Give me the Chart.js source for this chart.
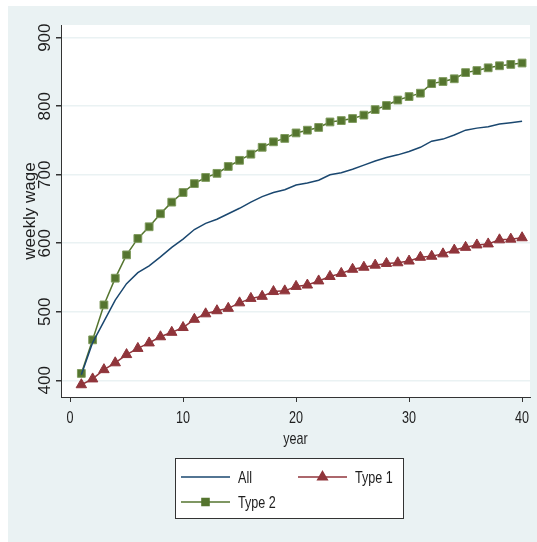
<!DOCTYPE html>
<html lang="en">
<head>
  <meta charset="UTF-8">
  <title>Weekly wage by year</title>
  <style>
    body {
      margin: 0;
      padding: 0;
      background: #ffffff;
    }
    #chart {
      display: block;
    }
  </style>
</head>
<body>
  <canvas id="chart" width="537" height="542"></canvas>

  <script src="https://cdn.jsdelivr.net/npm/chart.js"></script>
  <script>
    // values
    const years = [1, 2, 3, 4, 5, 6, 7, 8, 9, 10, 11, 12, 13, 14, 15, 16, 17, 18, 19, 20,
                   21, 22, 23, 24, 25, 26, 27, 28, 29, 30, 31, 32, 33, 34, 35, 36, 37, 38, 39, 40];
    const allWage = [408, 455, 486, 517, 541, 557, 567, 580, 594, 606, 620, 629, 635, 643, 651, 660, 668, 674, 678, 685,
                     688, 692, 700, 703, 708, 714, 720, 725, 729, 734, 740, 749, 752, 758, 765, 768, 770, 774, 776, 778];
    const type1Wage = [393.5, 402, 415.5, 425.5, 437.5, 446.5, 454.5, 463.5, 470, 477, 489, 497, 501.5, 505, 513, 519.5, 522.5, 529.5, 530.5, 537,
                       539, 545, 551.5, 556, 562, 565, 568, 570.5, 571.5, 574, 579.5, 581, 584.5, 590, 594, 597.5, 599, 605, 606, 608];
    const type2Wage = [410, 459, 510, 549, 583, 607, 624, 643, 660, 674, 687, 696, 702, 712, 721, 730, 740, 748, 753, 761,
                       765, 769, 777, 779, 782, 787, 795, 801, 809, 814, 819, 833, 836, 840, 849, 852, 856, 859, 861, 863];
    const yTicks = [400, 500, 600, 700, 800, 900];
    const xTicks = [0, 10, 20, 30, 40];

    const seriesNames = ['All', 'Type 1', 'Type 2'];
    const xTitle = 'year';
    const yTitle = 'weekly wage';

    const navy = '#1a476f';
    const maroon = '#90353b';
    const green = '#55752f';
    const bgColor = '#eaf2f3';
    const axisColor = '#333333';
    const textColor = '#1e1e1e';
    const plainFont = '"Liberation Sans", Arial, sans-serif';

    function toPoints(values) {
      return years.map((yr, i) => ({ x: yr, y: values[i] }));
    }

    // the original uses a narrow face for horizontal text, so squeeze it
    function narrowText(ctx, text, x, y, align) {
      const squeeze = 0.74;
      ctx.save();
      ctx.translate(x, y);
      ctx.scale(squeeze, 1);
      ctx.textAlign = align;
      ctx.fillText(text, 0, 0);
      ctx.restore();
    }

    // grey outer box and white plot region
    const backdrop = {
      id: 'backdrop',
      beforeDraw(chart) {
        const { ctx, chartArea } = chart;
        ctx.save();
        ctx.fillStyle = '#ffffff';
        ctx.fillRect(0, 0, chart.width, chart.height);
        ctx.fillStyle = bgColor;
        ctx.fillRect(8, 6, chart.width - 8, chart.height - 6);
        ctx.fillStyle = '#ffffff';
        ctx.fillRect(chartArea.left, chartArea.top, chartArea.right - chartArea.left, chartArea.bottom - chartArea.top);
        ctx.restore();
      }
    };

    // axis labels: y ones turned on their side, x ones narrow
    const axisText = {
      id: 'axisText',
      afterDraw(chart) {
        const { ctx, chartArea } = chart;
        const ys = chart.scales.y;
        const xs = chart.scales.x;
        ctx.save();
        ctx.fillStyle = textColor;
        ctx.textBaseline = 'alphabetic';

        ctx.font = '17px ' + plainFont;
        ctx.textAlign = 'center';
        ys.ticks.forEach(t => {
          const py = ys.getPixelForValue(t.value);
          ctx.save();
          ctx.translate(50, py);
          ctx.rotate(-Math.PI / 2);
          ctx.fillText(String(t.value), 0, 0);
          ctx.restore();
        });

        ctx.save();
        ctx.translate(35, (chartArea.top + chartArea.bottom) / 2);
        ctx.rotate(-Math.PI / 2);
        ctx.fillText(yTitle, 0, 0);
        ctx.restore();

        ctx.font = '17px ' + plainFont;
        xs.ticks.forEach(t => {
          narrowText(ctx, String(t.value), xs.getPixelForValue(t.value), 422.5, 'center');
        });
        narrowText(ctx, xTitle, (chartArea.left + chartArea.right) / 2, 443.5, 'center');
        ctx.restore();
      }
    };

    // boxed legend, two columns
    const boxLegend = {
      id: 'boxLegend',
      afterDraw(chart) {
        const { ctx } = chart;
        const box = { x: 175, y: 458, w: 228, h: 60 };
        ctx.save();
        ctx.fillStyle = '#ffffff';
        ctx.fillRect(box.x, box.y, box.w, box.h);
        ctx.strokeStyle = axisColor;
        ctx.lineWidth = 1;
        ctx.strokeRect(box.x + 0.5, box.y + 0.5, box.w, box.h);

        const slots = [
          { x: 181, y: 477 },
          { x: 298, y: 477 },
          { x: 181, y: 502 }
        ];
        ctx.font = '17px ' + plainFont;
        chart.data.datasets.forEach((ds, i) => {
          const s = slots[i];
          ctx.strokeStyle = ds.borderColor;
          ctx.lineWidth = ds.borderWidth;
          ctx.beginPath();
          ctx.moveTo(s.x, s.y);
          ctx.lineTo(s.x + 49, s.y);
          ctx.stroke();
          if (ds.pointRadius > 0) {
            ctx.fillStyle = ds.pointBackgroundColor;
            Chart.helpers.drawPoint(ctx, {
              pointStyle: ds.pointStyle,
              radius: ds.pointRadius - 0.5,
              borderWidth: 1
            }, s.x + 24.5, s.y);
          }
          ctx.fillStyle = textColor;
          narrowText(ctx, ds.label, s.x + 57, s.y + 6, 'left');
        });
        ctx.restore();
      }
    };

    new Chart(document.getElementById('chart'), {
      type: 'line',
      data: {
        datasets: [
          {
            label: seriesNames[0],
            data: toPoints(allWage),
            borderColor: navy,
            backgroundColor: navy,
            borderWidth: 1.5,
            pointRadius: 0,
            pointBackgroundColor: navy,
            fill: false
          },
          {
            label: seriesNames[1],
            data: toPoints(type1Wage),
            borderColor: maroon,
            backgroundColor: maroon,
            borderWidth: 1.5,
            pointStyle: 'triangle',
            pointRadius: 6,
            pointBorderWidth: 1,
            pointBackgroundColor: maroon,
            pointBorderColor: maroon,
            fill: false
          },
          {
            label: seriesNames[2],
            data: toPoints(type2Wage),
            borderColor: green,
            backgroundColor: green,
            borderWidth: 1.5,
            pointStyle: 'rect',
            pointRadius: 5.5,
            pointBorderWidth: 1,
            pointBackgroundColor: green,
            pointBorderColor: '#7e9a5c',
            fill: false
          }
        ]
      },
      options: {
        responsive: false,
        animation: false,
        layout: {
          padding: { left: 0, top: 25, right: 6, bottom: 95 }
        },
        plugins: {
          legend: { display: false },
          tooltip: { enabled: false }
        },
        scales: {
          x: {
            type: 'linear',
            min: -0.8,
            max: 40.7,
            afterFit(scale) { scale.height = 50; },
            afterBuildTicks(scale) { scale.ticks = xTicks.map(v => ({ value: v })); },
            grid: {
              color: 'rgba(0,0,0,0)',
              tickColor: axisColor,
              tickLength: 5,
              drawTicks: true
            },
            border: { display: true, color: axisColor, width: 1 },
            ticks: { display: false }
          },
          y: {
            min: 375.6,
            max: 918.5,
            afterFit(scale) { scale.width = 61; },
            afterBuildTicks(scale) { scale.ticks = yTicks.map(v => ({ value: v })); },
            grid: {
              color: bgColor,
              lineWidth: 1.5,
              tickColor: axisColor,
              tickLength: 5,
              drawTicks: true
            },
            border: { display: true, color: axisColor, width: 1 },
            ticks: { display: false }
          }
        }
      },
      plugins: [backdrop, axisText, boxLegend]
    });
  </script>
</body>
</html>
